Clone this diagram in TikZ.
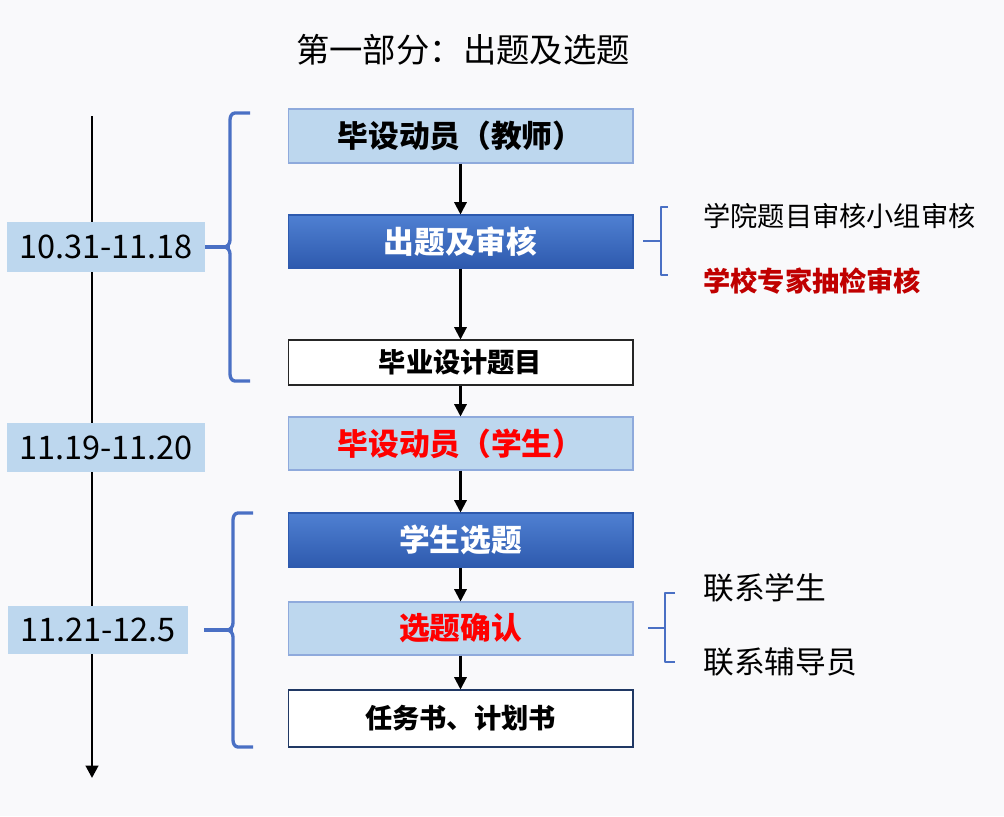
\documentclass[tikz,border=0pt]{standalone}
\usepackage{fontspec}
\setmainfont{Noto Sans CJK SC}
\usetikzlibrary{arrows.meta}
\definecolor{bgc}{HTML}{F9F9FB}
\definecolor{lightb}{HTML}{BDD7EE}
\definecolor{lightbd}{HTML}{8FAADC}
\definecolor{darktop}{HTML}{4F80D2}
\definecolor{darkbot}{HTML}{2E5AAE}
\definecolor{bracec}{HTML}{4A70C4}
\definecolor{redt}{HTML}{FF0000}
\definecolor{darkred}{HTML}{C00000}
\definecolor{navy}{HTML}{203864}
\tikzset{
  mainbox/.style={rectangle, minimum width=6.9cm, inner sep=0pt, line width=0.6pt, font=\fontsize{17.5}{20}\selectfont\bfseries},
  lightbox/.style={mainbox, fill=lightb, draw=lightbd},
  darkbox/.style={mainbox, top color=darktop, bottom color=darkbot, draw=darkbot, text=white},
  whitebox/.style={mainbox, fill=white, font=\fontsize{15.5}{18}\selectfont\bfseries},
  datebox/.style={rectangle, fill=lightb, inner sep=0pt, font=\fontsize{18.5}{22}\selectfont},
  flow/.style={-{Triangle[length=7pt,width=7pt]}, line width=1.2pt, black},
  bracket/.style={draw=bracec, line width=1.9pt, line join=round},
  side/.style={anchor=west, inner sep=0pt}
}
\begin{document}
\begin{tikzpicture}[x=0.02cm, y=-0.02cm]
\fill[bgc] (0,0) rectangle (1004,816);
\useasboundingbox (0,0) rectangle (1004,816);

\node[inner sep=0pt, font=\fontsize{19}{22}\selectfont] (title) at (463,50) {第一部分：出题及选题};

% timeline
\coordinate (tltop) at (92,116);
\coordinate (tlbot) at (92,778);
\draw[flow, line width=1.6pt] (tltop) -- (tlbot);

% main boxes
\node[lightbox, minimum height=1.08cm] (b1) at (460.5,136) {毕设动员（教师）};
\node[darkbox, minimum height=1.06cm] (b2) at (460.5,241.5) {出题及审核};
\node[whitebox, draw=black!85, minimum height=0.9cm] (b3) at (460.5,362.5) {毕业设计题目};
\node[lightbox, minimum height=1.06cm, text=redt] (b4) at (460.5,443.5) {毕设动员（学生）};
\node[darkbox, minimum height=1.08cm] (b5) at (460.5,540) {学生选题};
\node[lightbox, minimum height=1.06cm, text=redt] (b6) at (460.5,628.5) {选题确认};
\node[whitebox, draw=navy, minimum height=1.14cm] (b7) at (460.5,718.5) {任务书、计划书};

\draw[flow] (b1) -- (b2);
\draw[flow] (b2) -- (b3);
\draw[flow] (b3) -- (b4);
\draw[flow] (b4) -- (b5);
\draw[flow] (b5) -- (b6);
\draw[flow] (b6) -- (b7);

% date boxes
\node[datebox, minimum width=3.96cm, minimum height=1.0cm] (d1) at (106,247) {10.31-11.18};
\node[datebox, minimum width=3.96cm, minimum height=0.98cm] (d2) at (106,447.5) {11.19-11.20};
\node[datebox, minimum width=3.6cm, minimum height=0.96cm] (d3) at (98,630) {11.21-12.5};

% left brackets
\coordinate (br1) at (230,247);
\draw[bracket] (250,113) -- (235,113) to[out=180,in=90] (230,120) -- (230,240) to[out=270,in=0] (224,247) to[out=0,in=90] (230,254) -- (230,374) to[out=270,in=180] (235,381) -- (250,381);
\draw[bracket] (d1.east) -- (br1);
\coordinate (br2) at (233,630);
\draw[bracket] (253,513) -- (238,513) to[out=180,in=90] (233,520) -- (233,623) to[out=270,in=0] (227,630) to[out=0,in=90] (233,637) -- (233,740) to[out=270,in=180] (238,747) -- (253,747);
\draw[bracket] (d3.east) ++(16,0) -- (br2);

% right brackets
\coordinate (rb1) at (643,241);
\draw[bracket, line width=1.4pt] (668,207) -- (661,207) -- (661,275) -- (668,275);
\draw[bracket, line width=1.4pt] (rb1) -- (661,241);
\coordinate (rb2) at (648,628);
\draw[bracket, line width=1.4pt] (675,593) -- (665,593) -- (665,662) -- (675,662);
\draw[bracket, line width=1.4pt] (rb2) -- (665,628);

\node[side, font=\fontsize{15.5}{19}\selectfont] (t1) at (703,216) {学院题目审核小组审核};
\node[side, font=\fontsize{15.5}{19}\selectfont\bfseries, text=darkred] (t2) at (703,281) {学校专家抽检审核};
\node[side, font=\fontsize{17.5}{20}\selectfont] (t3) at (703,588) {联系学生};
\node[side, font=\fontsize{17.5}{20}\selectfont] (t4) at (703,662) {联系辅导员};
\end{tikzpicture}
\end{document}
